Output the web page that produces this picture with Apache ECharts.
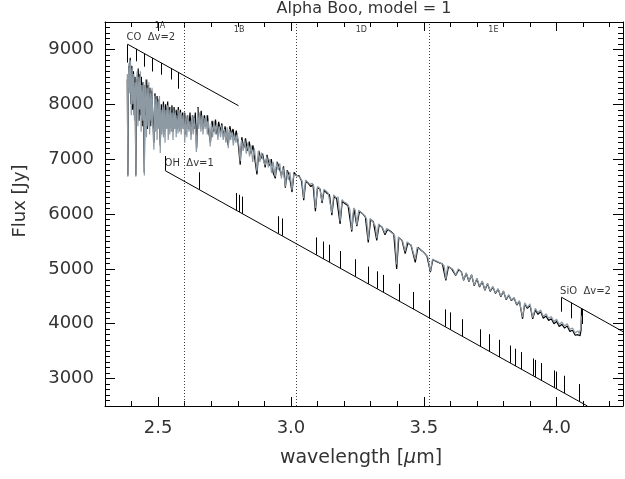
<!DOCTYPE html>
<html><head><meta charset="utf-8">
<script src="https://cdn.jsdelivr.net/npm/echarts@6/dist/echarts.min.js"></script>
<style>html,body{margin:0;padding:0;background:#fff}#c{width:625px;height:479px}</style>
</head><body><div id="c"></div>
<script>
// ---------- data ----------
const titleText = 'Alpha Boo, model = 1';
const xMajorTicks = [2.5, 3.0, 3.5, 4.0];
const yMajorTicks = [3000, 4000, 5000, 6000, 7000, 8000, 9000];
const bandEdges = [2.6, 3.02, 3.52];
const bandLabels = [['1A', 2.507, 9427], ['1B', 2.805, 9354], ['1D', 3.265, 9354], ['1E', 3.762, 9354]];

// model spectrum (grey): [wavelength um, flux Jy]
const modelSpectrum = [
[2.384,8550],[2.386,6680],[2.388,8400],[2.390,8750],[2.393,8200],[2.396,8800],[2.399,7800],[2.402,8650],[2.405,8000],[2.408,8550],[2.411,7700],[2.414,8400],[2.416,6680],[2.418,8300],[2.421,8600],[2.424,7600],[2.427,8500],[2.430,7900],[2.433,8600],[2.436,7500],[2.439,8350],[2.442,7700],[2.445,8400],[2.448,6700],[2.450,8100],[2.453,8450],[2.456,7400],[2.459,8300],[2.462,7600],[2.465,8400],[2.468,7450],[2.471,8200],[2.474,7700],[2.477,8300],[2.480,7600],[2.484,7170],[2.487,8150],[2.490,7500],[2.493,8100],[2.496,7350],[2.499,8050],[2.502,7550],[2.505,8150],[2.508,7110],[2.511,7900],[2.514,7450],[2.517,8000],[2.520,7400],[2.523,7950],[2.526,7300],[2.529,7900],[2.532,7550],[2.535,7980],[2.538,7350],[2.541,7900],[2.544,7450],[2.547,7950],[2.550,7500],[2.553,7850],[2.556,7350],[2.559,7900],[2.562,7550],[2.565,7850],[2.568,7400],[2.571,7800],[2.575,7470],[2.578,7900],[2.581,7500],[2.584,7850],[2.587,7450],[2.590,7800],[2.594,7550],[2.597,7850],[2.600,7300],[2.604,7750],[2.608,7400],[2.612,7800],[2.616,7500],[2.620,7700],[2.624,7350],[2.628,7800],[2.632,7450],[2.636,7750],[2.640,7550],[2.644,7130],[2.649,7930],[2.653,7550],[2.657,7850],[2.661,7500],[2.665,7800],[2.669,7450],[2.673,7750],[2.677,7550],[2.681,7800],[2.685,7450],[2.689,7700],[2.693,7500],[2.696,7230],[2.700,7650],
[2.705,7400],[2.710,7700],[2.715,7450],[2.720,7650],[2.725,7350],[2.730,7600],[2.735,7400],[2.740,7620],[2.745,7350],[2.750,7550],[2.755,7300],[2.760,7580],[2.764,7200],[2.768,7550],[2.773,7350],[2.778,7500],[2.783,7250],[2.788,7450],[2.793,7300],[2.798,7450],[2.804,7250],[2.809,6960],[2.814,7350],[2.820,7150],[2.826,7350],[2.832,7100],[2.838,7300],[2.844,7050],[2.850,7250],[2.856,6950],[2.862,7200],[2.867,7000],[2.872,6780],[2.877,7150],[2.883,6950],[2.889,7120],[2.896,6980],[2.903,6890],[2.909,7050],[2.915,6850],[2.921,7000],[2.927,6750],[2.933,6950],[2.941,6680],[2.946,6950],[2.952,6800],[2.958,6920],[2.964,6650],[2.970,6850],[2.979,6500],[2.984,6800],[2.990,6620],[2.996,6760],
[3.004,6440],[3.010,6720],[3.016,6750],[3.025,6700],[3.035,6660],[3.042,6600],[3.048,6290],[3.055,6620],[3.063,6580],[3.072,6540],[3.080,6560],[3.086,6500],[3.092,6110],[3.100,6500],[3.108,6470],[3.117,6230],[3.124,6450],[3.132,6420],[3.140,6380],[3.147,6400],[3.154,6020],[3.161,6350],[3.170,6300],[3.178,6310],[3.185,5870],[3.192,6260],[3.200,6220],[3.208,6200],[3.216,6160],[3.222,6080],[3.229,5710],[3.236,6110],[3.242,6070],[3.248,5800],[3.255,6070],[3.263,6030],[3.272,5990],[3.280,5960],[3.285,5900],[3.291,5530],[3.298,5920],[3.305,5880],[3.312,5850],[3.318,5780],[3.323,5560],[3.330,5820],[3.338,5780],[3.346,5740],[3.354,5650],[3.360,5740],[3.368,5700],[3.376,5670],[3.384,5640],[3.391,5600],[3.398,5080],[3.404,5580],[3.412,5540],[3.420,5510],[3.430,5320],[3.437,5490],[3.445,5460],[3.453,5430],[3.460,5400],[3.468,5170],[3.475,5390],[3.483,5360],[3.492,5330],[3.500,5300],
[3.508,5260],[3.515,5220],[3.525,4960],[3.533,5180],[3.542,5150],[3.550,5140],[3.560,5110],[3.570,5090],[3.577,5050],[3.583,4810],[3.590,5050],[3.600,5020],[3.610,4990],[3.620,4890],[3.630,5000],[3.640,4950],[3.650,4800],[3.660,4930],[3.670,4780],[3.680,4900],[3.690,4700],[3.700,4830],[3.710,4680],[3.720,4780],[3.730,4620],[3.740,4740],[3.750,4600],[3.760,4680],[3.770,4560],[3.780,4640],[3.790,4500],[3.800,4600],[3.810,4450],[3.820,4530],[3.830,4430],[3.840,4480],[3.850,4350],[3.860,4420],[3.872,4120],[3.880,4380],[3.890,4300],[3.900,4360],[3.910,4110],[3.920,4280],[3.930,4200],[3.940,4250],[3.950,4130],[3.960,4180],[3.970,4100],[3.980,4130],[3.990,4040],[4.000,4080],[4.010,3990],[4.020,4030],[4.030,3960],[4.040,4000],[4.050,3900],[4.060,3920],[4.070,3830],[4.080,3870],[4.085,3820],[4.090,3900],[4.095,4150]
];

// observed spectrum (black): [wavelength um, flux Jy]
const observedSpectrum = [
[2.384,8450],[2.386,6700],[2.389,8700],[2.392,8300],[2.395,8850],[2.398,8000],[2.401,8700],[2.404,7900],[2.407,8600],[2.410,7800],[2.413,8500],[2.416,6700],[2.419,8450],[2.422,8000],[2.425,8650],[2.428,7700],[2.431,8550],[2.434,7800],[2.437,8500],[2.440,7600],[2.443,8400],[2.448,6750],[2.451,8350],[2.454,7800],[2.457,8450],[2.460,7550],[2.463,8350],[2.466,7700],[2.469,8300],[2.472,7600],[2.476,8250],[2.480,7800],[2.484,7300],[2.488,8200],[2.492,7700],[2.496,8150],[2.500,7600],[2.504,8100],[2.508,7250],[2.512,8000],[2.516,7600],[2.520,8050],[2.524,7550],[2.528,8000],[2.532,7650],[2.536,8050],[2.540,7500],[2.544,7950],[2.548,7600],[2.552,7980],[2.556,7500],[2.560,7950],[2.564,7650],[2.568,7900],[2.572,7550],[2.576,7950],[2.580,7600],[2.584,7900],[2.588,7550],[2.592,7850],[2.596,7600],[2.600,7850],[2.605,7450],[2.610,7800],[2.615,7550],[2.620,7850],[2.625,7450],[2.630,7800],[2.635,7550],[2.640,7850],[2.645,7200],[2.650,7950],[2.656,7650],[2.662,7880],[2.668,7550],[2.674,7800],[2.680,7600],[2.686,7800],[2.692,7450],[2.697,7300],
[2.703,7700],[2.710,7500],[2.716,7720],[2.722,7450],[2.728,7680],[2.734,7500],[2.740,7650],[2.746,7400],[2.752,7600],[2.758,7400],[2.764,7250],[2.770,7600],[2.776,7450],[2.782,7550],[2.788,7350],[2.794,7520],[2.800,7350],[2.809,6900],[2.815,7400],[2.822,7200],[2.829,7380],[2.836,7150],[2.843,7320],[2.850,7100],[2.857,7250],[2.864,7000],[2.872,6720],[2.879,7150],[2.886,7000],[2.893,7100],[2.903,6850],[2.910,7080],[2.918,6880],[2.926,7000],[2.933,6750],[2.941,6650],[2.948,6950],[2.956,6850],[2.964,6700],[2.972,6870],[2.979,6480],[2.986,6800],[2.994,6700],
[3.004,6400],[3.012,6760],[3.020,6700],[3.030,6700],[3.040,6600],[3.048,6250],[3.056,6600],[3.065,6560],[3.075,6500],[3.083,6540],[3.092,6050],[3.100,6480],[3.110,6450],[3.117,6200],[3.125,6430],[3.135,6380],[3.145,6350],[3.154,5980],[3.162,6320],[3.172,6280],[3.185,5820],[3.193,6230],[3.203,6190],[3.215,6150],[3.229,5680],[3.237,6100],[3.248,5780],[3.258,6050],[3.268,6010],[3.280,5950],[3.291,5480],[3.300,5900],[3.310,5860],[3.323,5520],[3.332,5800],[3.343,5760],[3.354,5620],[3.364,5720],[3.376,5680],[3.387,5630],[3.398,5000],[3.406,5570],[3.418,5520],[3.430,5280],[3.440,5470],[3.452,5430],[3.468,5120],[3.478,5390],[3.490,5340],[3.500,5300],
[3.512,5230],[3.525,4940],[3.534,5170],[3.545,5140],[3.558,5110],[3.570,5090],[3.583,4790],[3.593,5040],[3.605,5000],[3.620,4880],[3.632,4990],[3.642,4940],[3.650,4790],[3.660,4920],[3.670,4770],[3.680,4890],[3.690,4690],[3.700,4820],[3.710,4670],[3.720,4770],[3.730,4610],[3.740,4730],[3.750,4590],[3.760,4670],[3.770,4550],[3.780,4630],[3.790,4490],[3.800,4590],[3.810,4440],[3.820,4520],[3.830,4420],[3.840,4470],[3.850,4340],[3.860,4410],[3.872,4090],[3.880,4360],[3.890,4280],[3.900,4340],[3.910,4090],[3.920,4250],[3.930,4170],[3.940,4220],[3.950,4100],[3.960,4140],[3.970,4060],[3.980,4090],[3.990,4000],[4.000,4040],[4.010,3950],[4.020,3990],[4.030,3920],[4.040,3960],[4.050,3860],[4.060,3880],[4.070,3790],[4.080,3800],[4.088,3780],[4.092,3880],[4.094,4280]
];

// molecular band markers
const coLine = [[2.3856, 9093], [2.8025, 7974]];
const coTicks = [[2.3856, 9093, 8760], [2.416, 9011, 8784], [2.449, 8923, 8685], [2.478, 8845, 8598], [2.513, 8751, 8539], [2.549, 8654, 8452], [2.574, 8587, 8284]];
const ohLine = [[2.527, 6789], [4.116, 2500]];
const ohStart = [2.527, 6789, 7057];
const ohTickWave = [2.654,2.794,2.806,2.818,2.951,2.966,3.094,3.122,3.143,3.186,3.241,3.291,3.323,3.347,3.407,3.462,3.522,3.580,3.600,3.646,3.714,3.747,3.785,3.824,3.845,3.868,3.911,3.921,3.942,3.992,4.000,4.028,4.084];
const ohTickBase = [6446,6068,6036,6003,5644,5604,5258,5182,5126,5010,4861,4726,4640,4575,4413,4264,4102,3946,3892,3768,3584,3495,3392,3287,3230,3168,3052,3025,2968,2834,2812,2736,2585];
const ohTickTop  = [6761,6383,6351,6318,5959,5919,5573,5497,5441,5325,5176,5041,4955,4890,4728,4579,4417,4261,4207,4083,3899,3810,3707,3602,3545,3483,3367,3340,3283,3149,3127,3051,2900];
const sioLine = [[4.019, 4481], [4.25, 3855]];
const sioTicks = [[4.019, 4481, 4219], [4.055, 4383, 4098], [4.097, 4270, 3995]];
const markerLabels = [['CO  Δv=2', 2.379, 9227], ['OH  Δv=1', 2.5224, 6930], ['SiO  Δv=2', 4.0113, 4596]];

// ---------- chart ----------
const FONT = "'DejaVu Sans', sans-serif";
const TXT = '#333';
const chart = echarts.init(document.getElementById('c'), null, {renderer: 'canvas'});

const segs = [];
segs.push({coords: coLine});
coTicks.forEach(t => segs.push({coords: [[t[0], t[1]], [t[0], t[2]]]}));
segs.push({coords: ohLine});
segs.push({coords: [[ohStart[0], ohStart[1]], [ohStart[0], ohStart[2]]]});
ohTickWave.forEach((w, i) => segs.push({coords: [[w, ohTickBase[i]], [w, ohTickTop[i]]]}));
segs.push({coords: sioLine});
sioTicks.forEach(t => segs.push({coords: [[t[0], t[1]], [t[0], t[2]]]}));

const yr = [2500, 9500];
const dotted = bandEdges.map(b => ({coords: [[b, yr[0]], [b, yr[1]]]}));

function xAx(pos, labels) {
  return [
    {type: 'value', min: 2.3, max: 4.25, interval: 0.1, position: pos,
     axisLine: {show: true, onZero: false, lineStyle: {color: '#000', width: 1}},
     axisTick: {show: true, inside: true, length: 5, lineStyle: {color: '#000'}},
     axisLabel: {show: false}, splitLine: {show: false}},
    {type: 'value', min: 2.3, max: 4.25, position: pos,
     axisLine: {show: false, onZero: false},
     axisTick: {show: true, inside: true, length: 9, customValues: xMajorTicks, lineStyle: {color: '#000'}},
     axisLabel: {show: labels, customValues: xMajorTicks, margin: 13, fontSize: 18, color: TXT, fontFamily: FONT,
                 formatter: v => v.toFixed(1)},
     splitLine: {show: false}}
  ];
}
function yAx(pos, labels) {
  return [
    {type: 'value', min: 2500, max: 9500, interval: 100, position: pos,
     axisLine: {show: true, onZero: false, lineStyle: {color: '#000', width: 1}},
     axisTick: {show: true, inside: true, length: 5, lineStyle: {color: '#000'}},
     axisLabel: {show: false}, splitLine: {show: false}},
    {type: 'value', min: 2500, max: 9500, position: pos,
     axisLine: {show: false, onZero: false},
     axisTick: {show: true, inside: true, length: 10, customValues: yMajorTicks, lineStyle: {color: '#000'}},
     axisLabel: {show: labels, customValues: yMajorTicks, margin: 11, fontSize: 18, color: TXT, fontFamily: FONT,
                 formatter: v => String(v)},
     splitLine: {show: false}}
  ];
}

const labelData = markerLabels.map(m => ({value: [m[1], m[2]], name: m[0],
  label: {show: true, position: 'right', distance: 0, formatter: m[0], fontSize: 10, color: '#000', fontFamily: FONT}}))
  .concat(bandLabels.map(b => ({value: [b[1], b[2]], name: b[0],
  label: {show: true, position: 'inside', formatter: b[0], fontSize: 8, color: '#000', fontFamily: FONT}})));

chart.setOption({
  animation: false,
  backgroundColor: '#fff',
  grid: {left: 105, right: 2, top: 22, bottom: 73},
  xAxis: [...xAx('bottom', true), ...xAx('top', false)],
  yAxis: [...yAx('left', true), ...yAx('right', false)],
  graphic: [
    {type: 'text', x: 364, y: 9, style: {text: titleText, align: 'center', verticalAlign: 'middle', fontSize: 16, fontFamily: FONT, fill: TXT}},
    {type: 'text', x: 20, y: 201, rotation: Math.PI / 2, style: {text: 'Flux [Jy]', align: 'center', verticalAlign: 'middle', fontSize: 18, fontFamily: FONT, fill: TXT}},
    {type: 'text', x: 361, y: 458, style: {rich: {n: {fontSize: 19, fontFamily: FONT, fill: TXT}, m: {fontSize: 19, fontFamily: FONT, fill: TXT, fontStyle: 'italic'}},
      text: '{n|wavelength [}{m|μ}{n|m]}', align: 'center', verticalAlign: 'middle'}}
  ],
  series: [
    {type: 'lines', coordinateSystem: 'cartesian2d', xAxisIndex: 0, yAxisIndex: 0, silent: true,
     data: dotted, lineStyle: {color: '#444', width: 1, type: [1, 2], opacity: 1}, z: 1},
    {type: 'line', xAxisIndex: 0, yAxisIndex: 0, data: observedSpectrum, showSymbol: false, symbol: 'none',
     lineStyle: {color: '#000', width: 1.2}, z: 2},
    {type: 'line', xAxisIndex: 0, yAxisIndex: 0, data: modelSpectrum, showSymbol: false, symbol: 'none',
     lineStyle: {color: '#8d99a3', width: 1.2}, z: 3},
    {type: 'lines', coordinateSystem: 'cartesian2d', xAxisIndex: 0, yAxisIndex: 0, silent: true,
     data: segs, lineStyle: {color: '#000', width: 1, opacity: 1}, z: 4},
    {type: 'scatter', xAxisIndex: 0, yAxisIndex: 0, data: labelData, symbolSize: 1,
     itemStyle: {color: 'rgba(0,0,0,0)'}, silent: true, z: 5}
  ]
});
</script></body></html>
